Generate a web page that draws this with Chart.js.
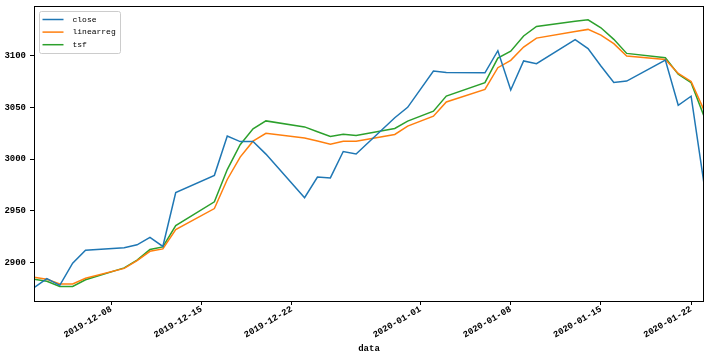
<!DOCTYPE html>
<html>
<head>
<meta charset="utf-8">
<script src="https://cdn.jsdelivr.net/npm/chart.js@4/dist/chart.umd.min.js"></script>
<style>
  html, body { margin: 0; padding: 0; background: #fff; }
  #wrap { width: 711px; height: 359px; }
</style>
</head>
<body>
<div id="wrap"><canvas id="chart" width="711" height="359"></canvas></div>
<script>
// ------------------------
// Data
// ------------------------
const dates = [
  '2019-12-02', '2019-12-03', '2019-12-04', '2019-12-05', '2019-12-06',
  '2019-12-09', '2019-12-10', '2019-12-11', '2019-12-12', '2019-12-13',
  '2019-12-16', '2019-12-17', '2019-12-18', '2019-12-19', '2019-12-20',
  '2019-12-23', '2019-12-24', '2019-12-25', '2019-12-26', '2019-12-27',
  '2019-12-30', '2019-12-31', '2020-01-02', '2020-01-03',
  '2020-01-06', '2020-01-07', '2020-01-08', '2020-01-09', '2020-01-10',
  '2020-01-13', '2020-01-14', '2020-01-15', '2020-01-16', '2020-01-17',
  '2020-01-20', '2020-01-21', '2020-01-22', '2020-01-23'
];

const close = [
  2875.8, 2884.7, 2878.1, 2899.5, 2912.0,
  2914.5, 2917.3, 2924.4, 2915.7, 2967.7,
  2984.4, 3022.4, 3017.0, 3017.1, 3004.9,
  2962.8, 2982.7, 2981.9, 3007.4, 3005.0,
  3040.0, 3050.1, 3085.2, 3083.8,
  3083.4, 3104.8, 3066.9, 3094.9, 3092.3,
  3115.6, 3106.8, 3090.0, 3074.1, 3075.5,
  3095.8, 3052.1, 3060.8, 2976.5
];

const linearreg = [
  2886.0, 2884.0, 2879.5, 2879.5, 2885.0,
  2894.5, 2902.0, 2911.0, 2913.3, 2932.0,
  2952.3, 2980.4, 3002.0, 3017.4, 3025.0,
  3020.5, 3017.6, 3014.5, 3017.4, 3017.4,
  3023.9, 3031.9, 3041.6, 3055.3,
  3067.4, 3088.4, 3095.5, 3108.3, 3117.0,
  3123.3, 3125.4, 3119.9, 3111.6, 3099.6,
  3096.4, 3082.9, 3075.1, 3047.4
];

const tsf = [
  2884.0, 2882.0, 2877.0, 2877.0, 2883.5,
  2895.0, 2902.5, 2912.7, 2915.3, 2935.9,
  2958.8, 2990.0, 3014.0, 3029.4, 3037.0,
  3031.2, 3026.5, 3022.0, 3024.2, 3023.0,
  3029.7, 3036.8, 3046.4, 3061.0,
  3073.9, 3097.7, 3104.4, 3119.0, 3128.3,
  3133.2, 3134.6, 3127.0, 3115.8, 3102.2,
  3098.0, 3082.2, 3073.9, 3041.6
];

const xTickLabels = ['2019-12-08', '2019-12-15', '2019-12-22', '2020-01-01', '2020-01-08', '2020-01-15', '2020-01-22'];
const yTicks = [2900, 2950, 3000, 3050, 3100];

const seriesNames = ['close', 'linearreg', 'tsf'];
const seriesColors = ['#1f77b4', '#ff7f0e', '#2ca02c'];

// ------------------------
// Helpers
// ------------------------
function dayNum(s) {
  const [y, m, d] = s.split('-').map(Number);
  return Date.UTC(y, m - 1, d) / 86400000;
}
function dayStr(n) {
  return new Date(n * 86400000).toISOString().slice(0, 10);
}

const xs = dates.map(dayNum);
const toPoints = vals => vals.map((v, i) => ({ x: xs[i], y: v }));

const tickFont = { family: 'Liberation Mono', size: 9, weight: 'bold' };

// frame + legend inside the axes
const framePlugin = {
  id: 'frame',
  afterDraw(chart) {
    const { ctx, chartArea: a } = chart;
    ctx.save();
    ctx.strokeStyle = '#000';
    ctx.lineWidth = 1;
    ctx.strokeRect(a.left + 0.5, a.top + 0.5, a.right - a.left - 1, a.bottom - a.top);

    // legend box
    const bx = a.left + 5.5, by = a.top + 5.5, bw = 81, bh = 42;
    ctx.fillStyle = 'rgba(255,255,255,0.8)';
    ctx.strokeStyle = '#cccccc';
    ctx.beginPath();
    ctx.roundRect(bx, by, bw, bh, 2);
    ctx.fill();
    ctx.stroke();

    ctx.font = '8px "Liberation Mono"';
    ctx.textBaseline = 'middle';
    seriesNames.forEach((name, i) => {
      const y = by + 8 + i * 12.6;
      ctx.strokeStyle = seriesColors[i];
      ctx.lineWidth = 1.5;
      ctx.beginPath();
      ctx.moveTo(bx + 3, y);
      ctx.lineTo(bx + 24, y);
      ctx.stroke();
      ctx.fillStyle = '#000';
      ctx.fillText(name, bx + 33, y);
    });
    ctx.restore();
  }
};

new Chart(document.getElementById('chart'), {
  type: 'line',
  data: {
    datasets: [close, linearreg, tsf].map((vals, i) => ({
      label: seriesNames[i],
      data: toPoints(vals),
      borderColor: seriesColors[i],
      backgroundColor: seriesColors[i],
      borderWidth: 1.5,
      pointRadius: 0,
      tension: 0
    }))
  },
  options: {
    responsive: false,
    animation: false,
    layout: { padding: { top: 6, right: 7, left: 0, bottom: 0 } },
    plugins: {
      legend: { display: false },
      tooltip: { enabled: false }
    },
    scales: {
      x: {
        type: 'linear',
        min: xs[0],
        max: xs[xs.length - 1],
        afterBuildTicks(scale) {
          scale.ticks = xTickLabels.map(s => ({ value: dayNum(s) }));
        },
        afterFit(scale) {
          scale.height = 58;
          scale.paddingLeft = 0;
          scale.paddingRight = 0;
        },
        ticks: {
          callback: v => dayStr(v),
          minRotation: 30,
          maxRotation: 30,
          autoSkip: false,
          padding: -1,
          color: '#000',
          font: tickFont
        },
        grid: { drawOnChartArea: false, drawTicks: true, tickLength: 4, color: '#000' },
        border: { display: false },
        title: {
          display: true,
          text: 'data',
          color: '#000',
          font: tickFont,
          padding: { top: 0, bottom: 5 }
        }
      },
      y: {
        min: 2863,
        max: 3148,
        afterBuildTicks(scale) {
          scale.ticks = yTicks.map(v => ({ value: v }));
        },
        afterFit(scale) {
          scale.width = 34;
          scale.paddingTop = 0;
          scale.paddingBottom = 0;
        },
        ticks: { callback: v => String(v), padding: 4, color: '#000', font: tickFont },
        grid: { drawOnChartArea: false, drawTicks: true, tickLength: 4, color: '#000' },
        border: { display: false }
      }
    }
  },
  plugins: [framePlugin]
});
</script>
</body>
</html>
